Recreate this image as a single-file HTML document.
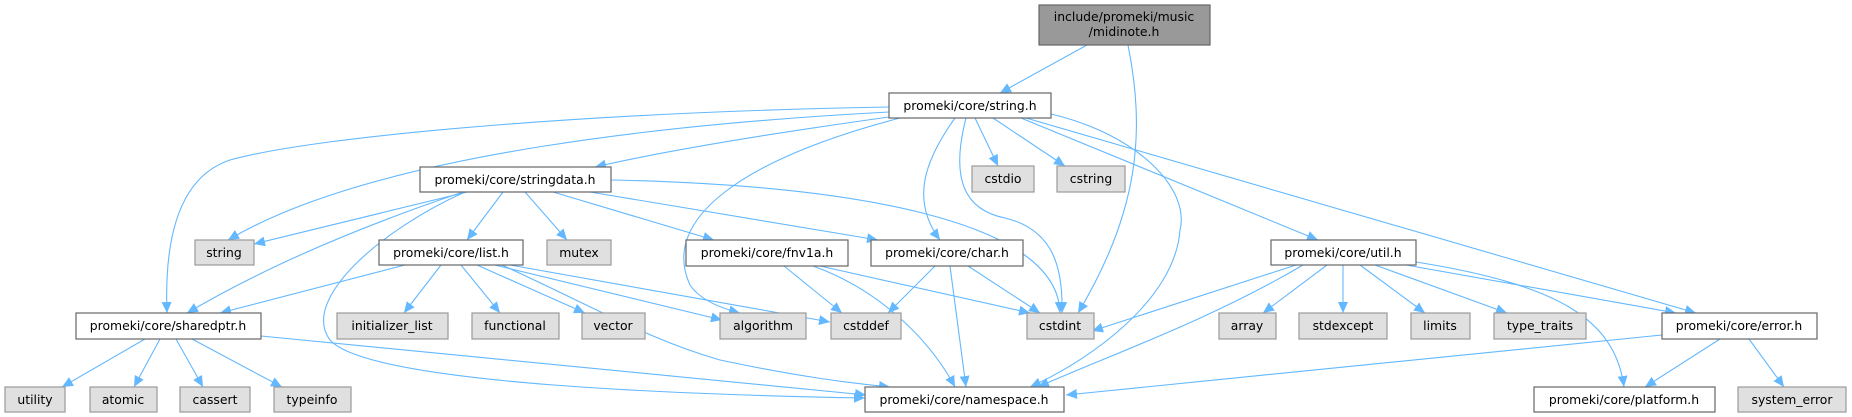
<!DOCTYPE html>
<html><head><meta charset="utf-8"><style>
html,body{margin:0;padding:0;background:#fff;width:1852px;height:417px;overflow:hidden}
svg{display:block}
text{font-family:"DejaVu Sans","Liberation Sans",sans-serif;font-size:12.4px;fill:#000;text-anchor:middle}
.w{fill:#fff;stroke:#666;stroke-width:1.2}
.g{fill:#e0e0e0;stroke:#999;stroke-width:1.2}
.e path{fill:none;stroke:#63b8ff;stroke-width:1.1}
</style></head><body>
<svg width="1852" height="417" viewBox="0 0 1852 417" xmlns="http://www.w3.org/2000/svg">
<defs><marker id="a" markerUnits="userSpaceOnUse" markerWidth="12" markerHeight="10" refX="11" refY="5" orient="auto"><path d="M0,0 L11,5 L0,10 z" fill="#63b8ff"/></marker></defs>
<g class="e">
<path marker-end="url(#a)" d="M1087,45 L1000,93"/>
<path marker-end="url(#a)" d="M1128,45 C1145,130 1140,210 1078,313"/>
<path marker-end="url(#a)" d="M889,112 C700,122 380,150 228,240"/>
<path marker-end="url(#a)" d="M889,107 C600,112 320,135 230,160 C170,180 165,260 167,313"/>
<path marker-end="url(#a)" d="M889,117 C760,135 660,152 595,167"/>
<path marker-end="url(#a)" d="M900,118 C740,160 660,220 690,285 C700,300 720,308 740,313"/>
<path marker-end="url(#a)" d="M955,118 C925,160 910,200 940,240"/>
<path marker-end="url(#a)" d="M966,118 C950,180 965,210 1005,218 C1055,230 1063,270 1062,313"/>
<path marker-end="url(#a)" d="M975,118 L998,166"/>
<path marker-end="url(#a)" d="M993,118 L1065,166"/>
<path marker-end="url(#a)" d="M1021,118 L1318,240"/>
<path marker-end="url(#a)" d="M1026,118 L1696,313"/>
<path marker-end="url(#a)" d="M1051,114 C1140,135 1190,190 1180,230 C1175,300 1090,360 1030,387"/>
<path marker-end="url(#a)" d="M467,192 L254,244"/>
<path marker-end="url(#a)" d="M463,192 C350,230 260,270 187,313"/>
<path marker-end="url(#a)" d="M465,192 C380,230 300,300 330,340 C370,385 700,395 865,398"/>
<path marker-end="url(#a)" d="M503,192 L467,240"/>
<path marker-end="url(#a)" d="M525,192 L567,240"/>
<path marker-end="url(#a)" d="M553,192 L714,240"/>
<path marker-end="url(#a)" d="M590,192 L878,240"/>
<path marker-end="url(#a)" d="M611,180 C850,185 1058,220 1060,313"/>
<path marker-end="url(#a)" d="M405,265 L220,313"/>
<path marker-end="url(#a)" d="M441,265 L404,313"/>
<path marker-end="url(#a)" d="M461,265 L500,313"/>
<path marker-end="url(#a)" d="M477,265 L585,313"/>
<path marker-end="url(#a)" d="M495,265 L722,320"/>
<path marker-end="url(#a)" d="M510,265 L830,322"/>
<path marker-end="url(#a)" d="M502,265 C600,310 650,340 720,360 C800,377 850,383 890,387"/>
<path marker-end="url(#a)" d="M145,339 L62,387"/>
<path marker-end="url(#a)" d="M160,339 L134,387"/>
<path marker-end="url(#a)" d="M176,339 L203,387"/>
<path marker-end="url(#a)" d="M192,339 L282,387"/>
<path marker-end="url(#a)" d="M261,336 L866,395"/>
<path marker-end="url(#a)" d="M784,266 L842,313"/>
<path marker-end="url(#a)" d="M813,266 C880,290 930,340 955,387"/>
<path marker-end="url(#a)" d="M820,266 L1030,313"/>
<path marker-end="url(#a)" d="M935,266 L888,313"/>
<path marker-end="url(#a)" d="M950,266 L966,387"/>
<path marker-end="url(#a)" d="M968,266 L1040,313"/>
<path marker-end="url(#a)" d="M1296,265 L1092,331"/>
<path marker-end="url(#a)" d="M1303,265 C1210,320 1110,355 1038,387"/>
<path marker-end="url(#a)" d="M1327,265 L1263,313"/>
<path marker-end="url(#a)" d="M1343,265 L1343,313"/>
<path marker-end="url(#a)" d="M1360,265 L1425,313"/>
<path marker-end="url(#a)" d="M1375,265 L1507,313"/>
<path marker-end="url(#a)" d="M1406,265 L1676,313"/>
<path marker-end="url(#a)" d="M1416,262 C1560,285 1615,320 1624,387"/>
<path marker-end="url(#a)" d="M1720,339 L1645,387"/>
<path marker-end="url(#a)" d="M1749,339 L1784,387"/>
<path marker-end="url(#a)" d="M1662,335 L1066,395"/>
</g>
<rect x="1039" y="5" width="171" height="40" fill="#999" stroke="#666" stroke-width="1.2"/>
<text x="1124" y="21">include/promeki/music</text><text x="1124" y="36">/midinote.h</text>
<rect class="w" x="889" y="93" width="162" height="25"/><text x="970" y="110">promeki/core/string.h</text>
<rect class="w" x="420" y="167" width="191" height="25"/><text x="515" y="184">promeki/core/stringdata.h</text>
<rect class="g" x="972" y="166" width="62" height="26"/><text x="1003" y="183">cstdio</text>
<rect class="g" x="1057" y="166" width="68" height="26"/><text x="1091" y="183">cstring</text>
<rect class="g" x="195" y="240" width="59" height="25"/><text x="224" y="257">string</text>
<rect class="w" x="379" y="240" width="144" height="25"/><text x="451" y="257">promeki/core/list.h</text>
<rect class="g" x="547" y="240" width="64" height="25"/><text x="579" y="257">mutex</text>
<rect class="w" x="686" y="240" width="162" height="26"/><text x="767" y="257">promeki/core/fnv1a.h</text>
<rect class="w" x="871" y="240" width="152" height="26"/><text x="947" y="257">promeki/core/char.h</text>
<rect class="w" x="1271" y="240" width="145" height="25"/><text x="1343" y="257">promeki/core/util.h</text>
<rect class="w" x="76" y="313" width="185" height="26"/><text x="168" y="330">promeki/core/sharedptr.h</text>
<rect class="g" x="337" y="313" width="111" height="26"/><text x="392" y="330">initializer_list</text>
<rect class="g" x="472" y="313" width="87" height="26"/><text x="515" y="330">functional</text>
<rect class="g" x="582" y="313" width="63" height="26"/><text x="613" y="330">vector</text>
<rect class="g" x="720" y="313" width="86" height="26"/><text x="763" y="330">algorithm</text>
<rect class="g" x="831" y="313" width="70" height="26"/><text x="866" y="330">cstddef</text>
<rect class="g" x="1027" y="313" width="67" height="26"/><text x="1060" y="330">cstdint</text>
<rect class="g" x="1219" y="313" width="57" height="26"/><text x="1247" y="330">array</text>
<rect class="g" x="1299" y="313" width="88" height="26"/><text x="1343" y="330">stdexcept</text>
<rect class="g" x="1411" y="313" width="59" height="26"/><text x="1440" y="330">limits</text>
<rect class="g" x="1494" y="313" width="92" height="26"/><text x="1540" y="330">type_traits</text>
<rect class="w" x="1662" y="313" width="155" height="26"/><text x="1739" y="330">promeki/core/error.h</text>
<rect class="g" x="5" y="387" width="60" height="25"/><text x="35" y="404">utility</text>
<rect class="g" x="90" y="387" width="67" height="25"/><text x="123" y="404">atomic</text>
<rect class="g" x="180" y="387" width="70" height="25"/><text x="215" y="404">cassert</text>
<rect class="g" x="274" y="387" width="77" height="25"/><text x="312" y="404">typeinfo</text>
<rect class="w" x="865" y="387" width="199" height="25"/><text x="964" y="404">promeki/core/namespace.h</text>
<rect class="w" x="1534" y="387" width="181" height="25"/><text x="1624" y="404">promeki/core/platform.h</text>
<rect class="g" x="1738" y="387" width="108" height="25"/><text x="1792" y="404">system_error</text>
</svg>
</body></html>
